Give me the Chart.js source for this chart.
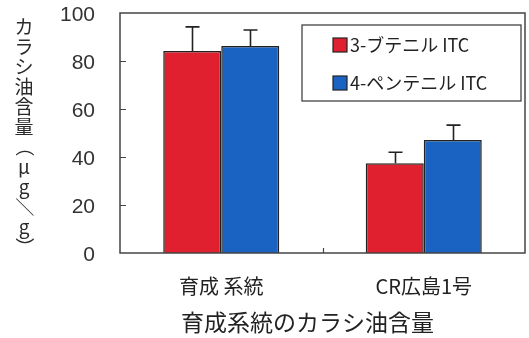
<!DOCTYPE html>
<html>
<head>
<meta charset="utf-8">
<script src="https://cdn.jsdelivr.net/npm/chart.js@4/dist/chart.umd.min.js"></script>
<style>
  html, body { margin: 0; padding: 0; background: #fff; }
  #wrap { width: 529px; height: 338px; }
</style>
</head>
<body>
<div id="wrap"><canvas id="c" width="529" height="338"></canvas></div>
<script>
// Mustard-oil (isothiocyanate) content of the bred line vs. CR Hiroshima No.1
const categories = ['育成 系統', 'CR広島1号'];
const seriesNames = ['3-ブテニル ITC', '4-ペンテニル ITC'];
const butenyl = [84.2, 37.4];
const butenylErr = [10.0, 4.6];
const pentenyl = [86.3, 47.1];
const pentenylErr = [6.6, 6.2];
const yTicks = [0, 20, 40, 60, 80, 100];
const yTitle = 'カラシ油含量（μg／g）';
const xTitle = '育成系統のカラシ油含量';

const RED = '#e0202e';
const BLUE = '#1a63c2';
const INK = '#222';
const JP = '"Noto Sans CJK JP", "Noto Sans", sans-serif';
const NUM = '"Liberation Sans", Arial, sans-serif';

const errors = [butenylErr, pentenylErr];

// Box around the plot area plus short inward tick marks
const framePlugin = {
  id: 'frame',
  afterDraw(chart) {
    const { ctx, chartArea: a, scales } = chart;
    ctx.save();
    ctx.strokeStyle = '#444';
    ctx.lineWidth = 1.5;
    ctx.strokeRect(a.left, a.top, a.right - a.left, a.bottom - a.top);
    ctx.lineWidth = 1.2;
    ctx.beginPath();
    yTicks.slice(1, -1).forEach(v => {
      const y = Math.round(scales.y.getPixelForValue(v)) + 0.5;
      ctx.moveTo(a.left, y);
      ctx.lineTo(a.left + 6, y);
    });
    // boundary tick between the two categories
    const xs = categories.map((c, i) => scales.x.getPixelForValue(i));
    const mid = Math.round((xs[0] + xs[1]) / 2) + 0.5;
    ctx.moveTo(mid, a.bottom);
    ctx.lineTo(mid, a.bottom - 5);
    ctx.stroke();
    ctx.restore();
  }
};

// Upward-only error bars with caps
const errorBarPlugin = {
  id: 'errorBars',
  afterDatasetsDraw(chart) {
    const { ctx, scales } = chart;
    ctx.save();
    ctx.strokeStyle = INK;
    ctx.lineWidth = 1.6;
    chart.data.datasets.forEach((ds, di) => {
      const meta = chart.getDatasetMeta(di);
      meta.data.forEach((bar, i) => {
        const top = scales.y.getPixelForValue(ds.data[i] + errors[di][i]);
        const x = Math.round(bar.x) + 0.5;
        ctx.beginPath();
        ctx.moveTo(x, bar.y);
        ctx.lineTo(x, top);
        ctx.moveTo(x - 7, top);
        ctx.lineTo(x + 7, top);
        ctx.stroke();
      });
    });
    ctx.restore();
  }
};

// Boxed legend in the upper right of the plot
const legendPlugin = {
  id: 'boxLegend',
  afterDraw(chart) {
    const { ctx, chartArea: a } = chart;
    const bx = a.left + 182, by = a.top + 12, bw = 219, bh = 76;
    ctx.save();
    ctx.fillStyle = '#fff';
    ctx.fillRect(bx, by, bw, bh);
    ctx.strokeStyle = '#444';
    ctx.lineWidth = 1.3;
    ctx.strokeRect(bx, by, bw, bh);
    chart.data.datasets.forEach((ds, i) => {
      const cy = by + 20 + i * 38;
      ctx.fillStyle = ds.backgroundColor;
      ctx.fillRect(bx + 31, cy - 7, 14, 14);
      ctx.strokeStyle = INK;
      ctx.lineWidth = 1.2;
      ctx.strokeRect(bx + 31, cy - 7, 14, 14);
      ctx.fillStyle = INK;
      ctx.font = '18px ' + JP;
      ctx.textBaseline = 'middle';
      ctx.textAlign = 'left';
      ctx.fillText(ds.label, bx + 48, cy);
    });
    ctx.restore();
  }
};

// Vertical (stacked) y-axis title and the bottom title
const titlePlugin = {
  id: 'titles',
  afterDraw(chart) {
    const { ctx, chartArea: a } = chart;
    ctx.save();
    ctx.fillStyle = '#2a2a2a';
    ctx.font = '19px ' + JP;
    ctx.textAlign = 'center';
    ctx.textBaseline = 'middle';
    const chars = Array.from(yTitle);
    const step = 20;
    chars.forEach((ch, i) => {
      const x = 24, y = a.top + 14 + i * step;
      if ('（）／'.includes(ch)) {
        ctx.save();
        ctx.translate(x, y);
        ctx.rotate(Math.PI / 2);
        ctx.fillText(ch, 0, 0);
        ctx.restore();
      } else {
        ctx.fillText(ch, x, y);
      }
    });
    ctx.font = '23px ' + JP;
    ctx.fillStyle = INK;
    ctx.fillText(xTitle, a.left + (a.right - a.left) * 0.463, 322);
    ctx.restore();
  }
};

new Chart(document.getElementById('c'), {
  type: 'bar',
  data: {
    labels: categories,
    datasets: [
      { label: seriesNames[0], data: butenyl, backgroundColor: RED, borderColor: INK, borderWidth: 1.5 },
      { label: seriesNames[1], data: pentenyl, backgroundColor: BLUE, borderColor: INK, borderWidth: 1.5 }
    ]
  },
  options: {
    responsive: false,
    animation: false,
    devicePixelRatio: 1,
    layout: { padding: { left: 50, top: 13, right: 4, bottom: 0 } },
    datasets: { bar: { categoryPercentage: 0.573, barPercentage: 1.0 } },
    plugins: { legend: { display: false }, tooltip: { enabled: false }, title: { display: false } },
    scales: {
      x: {
        grid: { display: false, drawTicks: false },
        border: { display: false },
        ticks: { color: INK, font: { family: JP, size: 20 }, padding: 21, maxRotation: 0 },
        afterFit(s) { s.height = 85; s.paddingLeft = 0; s.paddingRight = 0; }
      },
      y: {
        min: 0, max: 100,
        afterBuildTicks(s) { s.ticks = yTicks.map(v => ({ value: v })); },
        grid: { display: false, drawTicks: false },
        border: { display: false },
        ticks: { color: '#333', font: { family: NUM, size: 21 }, padding: 25, labelOffset: 2 },
        afterFit(s) { s.width = 70; s.paddingTop = 0; s.paddingBottom = 0; }
      }
    }
  },
  plugins: [framePlugin, errorBarPlugin, legendPlugin, titlePlugin]
});
</script>
</body>
</html>
